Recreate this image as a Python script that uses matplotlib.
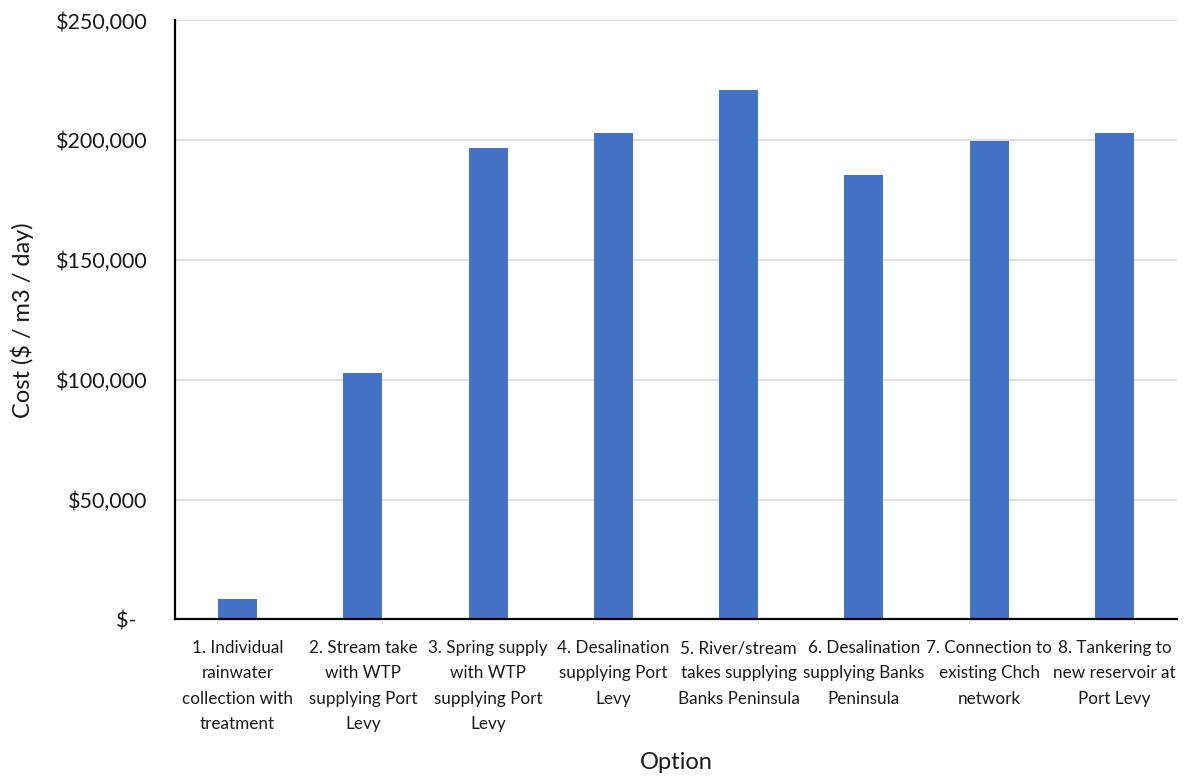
import matplotlib
matplotlib.use("Agg")
import matplotlib.pyplot as plt
from matplotlib.ticker import FuncFormatter

options = [
    "1. Individual\nrainwater\ncollection with\ntreatment",
    "2. Stream take\nwith WTP\nsupplying Port\nLevy",
    "3. Spring supply\nwith WTP\nsupplying Port\nLevy",
    "4. Desalination\nsupplying Port\nLevy",
    "5. River/stream\ntakes supplying\nBanks Peninsula",
    "6. Desalination\nsupplying Banks\nPeninsula",
    "7. Connection to\nexisting Chch\nnetwork",
    "8. Tankering to\nnew reservoir at\nPort Levy",
]
cost = [8600, 102900, 196700, 203000, 220900, 185600, 199800, 203000]
yticks = [0, 50000, 100000, 150000, 200000, 250000]

plt.rcParams['font.family'] = ['Lato', 'DejaVu Sans']
txt = "#1a1a1a"

fig = plt.figure(figsize=(11.84, 7.76), dpi=100)
ax = fig.add_axes([0.1478, 0.2017, 0.9941 - 0.1478, 0.9736 - 0.2017])

x = range(len(options))
ax.bar(x, cost, width=0.31, color="#4472C4", zorder=3)

ax.set_xlim(-0.5, len(options) - 0.5)
ax.set_ylim(0, 250000)
ax.set_yticks(yticks)


def money(v, pos):
    if v == 0:
        return "$-  "
    return "${:,.0f}".format(v)


ax.yaxis.set_major_formatter(FuncFormatter(money))
ax.set_xticks(list(x))
ax.set_xticklabels(options, fontsize=12.3, linespacing=1.7, color=txt)
for lab in ax.get_yticklabels():
    lab.set_fontsize(15.5)
    lab.set_color(txt)

ax.tick_params(axis="y", length=0, pad=20)
ax.tick_params(axis="x", length=0, pad=15)

ax.grid(axis="y", color="#d9d9d9", linewidth=1.2, zorder=0)
for s in ["top", "right"]:
    ax.spines[s].set_visible(False)
for s in ["left", "bottom"]:
    ax.spines[s].set_color("black")
    ax.spines[s].set_linewidth(1.6)
    ax.spines[s].set_zorder(4)

ax.set_ylabel("Cost ($ / m3 / day)", fontsize=17, labelpad=15.5, color=txt)
ax.set_xlabel("Option", fontsize=17, labelpad=15, color=txt)

fig.savefig("out.png", dpi=100)
